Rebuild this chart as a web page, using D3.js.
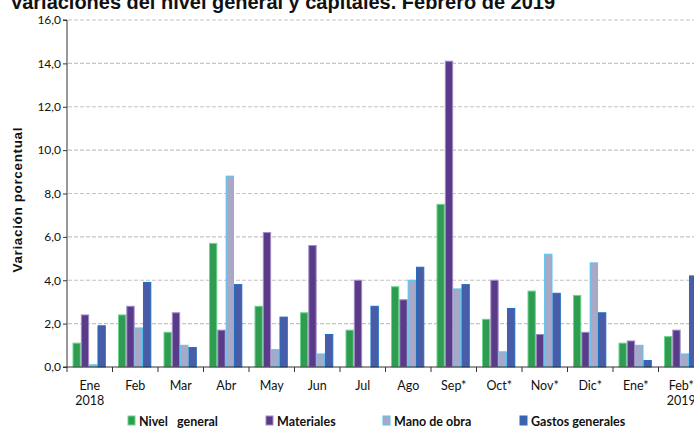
<!DOCTYPE html>
<html lang="es">
<head>
<meta charset="utf-8">
<title>Variaciones del nivel general y capitales</title>
<script src="https://cdn.jsdelivr.net/npm/d3@7"></script>
<style>
body { margin: 0; background: #fff; }
text { font-family: Lato, "Liberation Sans", sans-serif; fill: #111; }
.grid line { stroke: #c4c4c4; stroke-dasharray: 4,2; stroke-width: 1.2; }
.axis path, .axis line { stroke: #333; }
</style>
</head>
<body>
<svg id="chart" width="694" height="430"></svg>
<script>

var months = ["Ene", "Feb", "Mar", "Abr", "May", "Jun", "Jul", "Ago", "Sep*", "Oct*", "Nov*", "Dic*", "Ene*", "Feb*"];
var years = {"Ene": "2018", "Feb*": "2019"};
var series = ["Nivel   general", "Materiales", "Mano de obra", "Gastos generales"];

var nivelGeneral  = [1.1, 2.4, 1.6, 5.7, 2.8, 2.5, 1.7, 3.7, 7.5, 2.2, 3.5, 3.3, 1.1, 1.4];
var materiales    = [2.4, 2.8, 2.5, 1.7, 6.2, 5.6, 4.0, 3.1, 14.1, 4.0, 1.5, 1.6, 1.2, 1.7];
var manoDeObra    = [0.1, 1.8, 1.0, 8.8, 0.8, 0.6, 0.0, 4.0, 3.6, 0.7, 5.2, 4.8, 1.0, 0.6];
var gastosGrales  = [1.9, 3.9, 0.9, 3.8, 2.3, 1.5, 2.8, 4.6, 3.8, 2.7, 3.4, 2.5, 0.3, 4.2];

var yTicks = [0, 2, 4, 6, 8, 10, 12, 14, 16];

var fills   = ["#2e9d4f", "#5a3b89", "#a9a8c6", "#4a5ca7"];
var borders = ["#6fd394", "#a08cc4", "#4fc6f2", "#1f6fc0"];

var data = months.map(function(m, i) {
  return {mes: m, vals: [nivelGeneral[i], materiales[i], manoDeObra[i], gastosGrales[i]]};
});

var svg = d3.select("#chart"),
    plotLeft = 67, plotTop = 20, plotBottom = 367;
var groupW = 45.5;

var x0 = d3.scaleBand().domain(months).range([plotLeft, plotLeft + groupW * months.length]).padding(0);
var x1 = d3.scaleBand().domain(d3.range(series.length)).range([5.5, 38.8]).padding(0);
var y = d3.scaleLinear().domain([0, 16]).range([plotBottom, plotTop]);

// title (top part is cut off like in the original)
svg.append("text")
    .attr("x", 10)
    .attr("y", 9)
    .attr("textLength", 545)
    .attr("lengthAdjust", "spacingAndGlyphs")
    .style("font-family", "'Liberation Sans', sans-serif")
    .style("font-size", "21px")
    .style("font-weight", "bold")
    .text("Variaciones del nivel general y capitales. Febrero de 2019");

// grid
svg.append("g")
    .attr("class", "grid")
  .selectAll("line")
  .data(yTicks.filter(function(d) { return d > 0; }))
  .enter().append("line")
    .attr("x1", plotLeft + 1)
    .attr("x2", 694)
    .attr("y1", function(d) { return y(d); })
    .attr("y2", function(d) { return y(d); });

// bars
var groups = svg.append("g")
  .selectAll("g")
  .data(data)
  .enter().append("g")
    .attr("transform", function(d) { return "translate(" + x0(d.mes) + ",0)"; });

groups.selectAll("rect")
  .data(function(d) { return d.vals.map(function(v, k) { return {k: k, v: v}; }).filter(function(d) { return d.v > 0; }); })
  .enter().append("rect")
    .attr("x", function(d) { return x1(d.k) + 0.5; })
    .attr("y", function(d) { return y(d.v); })
    .attr("width", x1.bandwidth() - 1)
    .attr("height", function(d) { return plotBottom - y(d.v); })
    .attr("fill", function(d) { return fills[d.k]; })
    .attr("stroke", function(d) { return borders[d.k]; })
    .attr("stroke-width", 1);

// y axis
var yAxis = svg.append("g")
    .attr("class", "axis")
    .attr("transform", "translate(" + plotLeft + ",0)")
    .call(d3.axisLeft(y).tickValues(yTicks).tickSize(4).tickFormat(function(d) { return d3.format(".1f")(d).replace(".", ","); }));
yAxis.select(".domain").attr("d", "M-4," + plotTop + "H0V" + plotBottom);
yAxis.selectAll("text").attr("x", -6).style("font-size", "12px").style("fill", "#111");

// x axis
var xAxis = svg.append("g")
    .attr("class", "axis")
    .attr("transform", "translate(0," + plotBottom + ")");
xAxis.append("line")
    .attr("x1", plotLeft - 4).attr("x2", 694)
    .attr("y1", 0).attr("y2", 0);
xAxis.selectAll(".tk")
  .data(months)
  .enter().append("line")
    .attr("x1", function(d) { return x0(d); })
    .attr("x2", function(d) { return x0(d); })
    .attr("y1", 0).attr("y2", 5);
xAxis.selectAll(".lbl")
  .data(months)
  .enter().append("text")
    .attr("x", function(d) { return x0(d) + groupW / 2; })
    .attr("y", 23)
    .attr("text-anchor", "middle")
    .style("font-size", "12.5px")
    .text(function(d) { return d; });
xAxis.selectAll(".yr")
  .data(months.filter(function(m) { return years[m]; }))
  .enter().append("text")
    .attr("x", function(d) { return x0(d) + groupW / 2; })
    .attr("y", 38)
    .attr("text-anchor", "middle")
    .style("font-size", "12.5px")
    .text(function(d) { return years[d]; });

// y label
svg.append("text")
    .attr("transform", "translate(22,200) rotate(-90)")
    .attr("text-anchor", "middle")
    .style("font-size", "13.5px")
    .style("font-weight", "bold")
    .style("font-family", "'Liberation Sans', sans-serif")
    .attr("textLength", 145)
    .text("Variación  porcentual");

// legend
var legendX = [128, 266, 383, 520];
var legend = svg.append("g")
  .selectAll("g")
  .data(series)
  .enter().append("g")
    .attr("transform", function(d, i) { return "translate(" + legendX[i] + ",416)"; });
legend.append("rect")
    .attr("width", 7).attr("height", 9)
    .attr("fill", function(d, i) { return fills[i]; })
    .attr("stroke", function(d, i) { return borders[i]; });
legend.append("text")
    .attr("x", 11)
    .attr("y", 9.5)
    .style("font-size", "12.5px")
    .style("font-weight", "bold")
    .style("white-space", "pre")
    .text(function(d) { return d; });

</script>
</body>
</html>
